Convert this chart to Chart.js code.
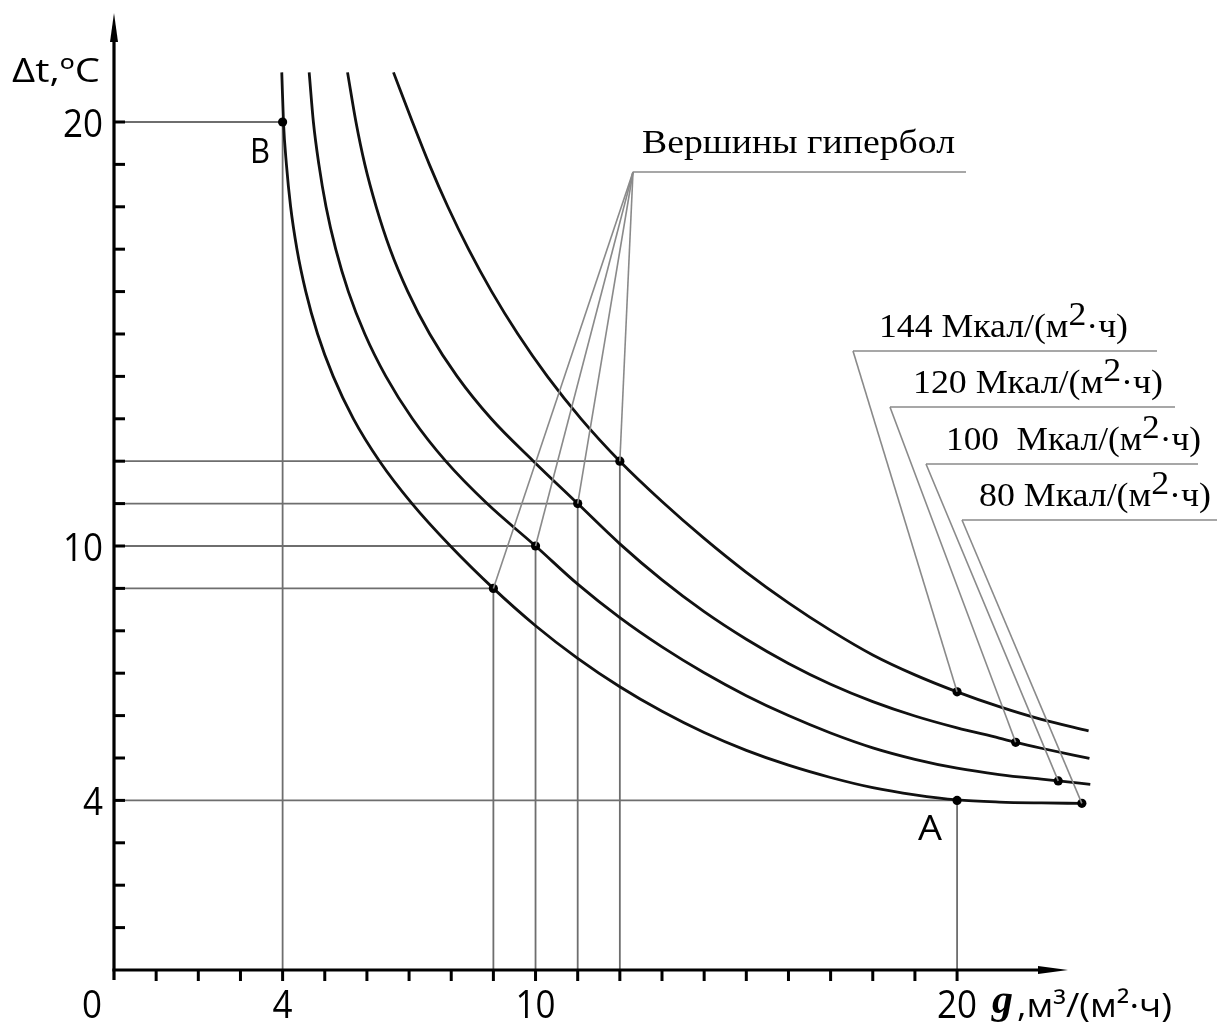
<!DOCTYPE html>
<html>
<head>
<meta charset="utf-8">
<script src="https://cdn.jsdelivr.net/npm/chart.js@4.4.0/dist/chart.umd.min.js"></script>
<style>
html, body { margin: 0; padding: 0; background: #fff; }
#wrap { width: 1217px; height: 1025px; }
</style>
</head>
<body>
<div id="wrap"><canvas id="hyperChart" width="1217" height="1025"></canvas></div>
<script>
// g, м3/(м2·ч) and Δt, °C, one pair of arrays per curve
var g80   = [3.98, 4.02, 4.09, 4.19, 4.34, 4.55, 4.83, 5.2, 5.68, 6.3, 7.07, 7.98, 9.0, 10, 11, 12, 13, 14, 15, 16, 17, 18, 19, 20, 21, 22, 22.96];
var dt80  = [21.17, 20, 19, 18, 17, 16, 15, 14, 13, 12, 11, 10, 9.0, 8.12, 7.35, 6.68, 6.1, 5.6, 5.18, 4.83, 4.54, 4.3, 4.13, 4.01, 3.96, 3.94, 3.93];
var g100  = [4.63, 4.73, 4.86, 5.03, 5.26, 5.56, 5.95, 6.45, 7.08, 7.87, 8.85, 10, 11, 12, 13, 14, 15, 16, 17, 18, 19, 20, 21, 22, 22.4, 23.16];
var dt100 = [21.17, 20, 19, 18, 17, 16, 15, 14, 13, 12, 11, 10, 9.1, 8.31, 7.62, 7.01, 6.47, 6.0, 5.59, 5.24, 4.97, 4.76, 4.61, 4.5, 4.46, 4.38];
var g120  = [5.54, 5.74, 5.95, 6.22, 6.55, 6.97, 7.49, 8.14, 8.95, 9.95, 11, 12, 13, 14, 15, 16, 17, 18, 19, 20, 21, 21.39, 22, 23.14];
var dt120 = [21.17, 20, 19, 18, 17, 16, 15, 14, 13, 12, 11, 10.05, 9.2, 8.45, 7.8, 7.23, 6.74, 6.33, 5.99, 5.71, 5.47, 5.37, 5.23, 4.99];
var g144  = [6.63, 7.08, 7.48, 7.92, 8.41, 8.96, 9.58, 10.28, 11.08, 12, 13, 14, 15, 16, 17, 18, 19, 20, 21, 22, 23.12];
var dt144 = [21.17, 20, 19, 18, 17, 16, 15, 14, 13, 12, 11.05, 10.18, 9.38, 8.66, 8.01, 7.43, 6.96, 6.56, 6.21, 5.91, 5.64];

// vertices of the hyperbolas (80, 100, 120, 144)
var vertexG  = [9, 10, 11, 12];
var vertexDt = [9, 10, 11, 12];
// points B and A
var pointB = [4, 20];
var pointA = [20, 4];
// points that carry the load labels (80, 100, 120, 144)
var markG  = [22.96, 22.4, 21.39, 20.0];
var markDt = [3.93, 4.46, 5.37, 6.56];
var loadLabels = ['80', '100 ', '120', '144'];

var xTickLabels = [0, 4, 10, 20];
var yTickLabels = [4, 10, 20];
var tickCountX = 20;
var tickCountY = 20;

function pts(gs, ds) {
    return gs.map(function (g, i) { return { x: g, y: ds[i] }; });
}

function curve(gs, ds) {
    return {
        data: pts(gs, ds),
        showLine: true,
        borderColor: '#111',
        borderWidth: 2.8,
        pointRadius: 0,
        cubicInterpolationMode: 'monotone',
        order: 2,
        clip: false
    };
}

function guide(g, d) {
    return {
        data: [{ x: 0, y: d }, { x: g, y: d }, { x: g, y: 0 }],
        showLine: true,
        borderColor: '#6e6e6e',
        borderWidth: 1.8,
        pointRadius: 0,
        tension: 0,
        order: 3
    };
}

var datasets = [curve(g80, dt80), curve(g100, dt100), curve(g120, dt120), curve(g144, dt144)];
vertexG.forEach(function (g, i) { datasets.push(guide(g, vertexDt[i])); });
datasets.push(guide(pointB[0], pointB[1]));
datasets.push(guide(pointA[0], pointA[1]));
datasets.push({
    data: pts(vertexG, vertexDt).concat(pts(markG, markDt), [{ x: pointB[0], y: pointB[1] }, { x: pointA[0], y: pointA[1] }]),
    showLine: false,
    pointRadius: 4.6,
    pointBackgroundColor: '#000',
    pointBorderWidth: 0,
    order: 1,
    clip: false
});

// draws text squeezed/stretched to a given width
function fitText(ctx, text, x, y, font, width) {
    ctx.save();
    ctx.font = font;
    var w = ctx.measureText(text).width;
    ctx.translate(x, y);
    ctx.scale(width / w, 1);
    ctx.fillText(text, 0, 0);
    ctx.restore();
}

function supText(ctx, pre, sup, post, x, y, font, width, lift) {
    ctx.save();
    ctx.font = font;
    var w1 = ctx.measureText(pre).width;
    var w2 = ctx.measureText(sup).width;
    var w3 = ctx.measureText(post).width;
    ctx.translate(x, y);
    ctx.scale(width / (w1 + w2 + w3), 1);
    ctx.fillText(pre, 0, 0);
    ctx.fillText(sup, w1, -lift);
    ctx.fillText(post, w1 + w2, 0);
    ctx.restore();
}

function line(ctx, x1, y1, x2, y2) {
    ctx.beginPath();
    ctx.moveTo(x1, y1);
    ctx.lineTo(x2, y2);
    ctx.stroke();
}

var drawing = {
    id: 'drawing',
    afterDatasetsDraw: function (chart) {
        var ctx = chart.ctx;
        var xs = chart.scales.x, ys = chart.scales.y;
        var x0 = xs.getPixelForValue(0), y0 = ys.getPixelForValue(0);

        ctx.save();
        ctx.fillStyle = '#000';
        ctx.strokeStyle = '#000';

        // axes
        ctx.lineWidth = 3.2;
        line(ctx, x0, y0 + 10, x0, 30);
        line(ctx, x0 - 1.6, y0, 1045, y0);
        ctx.beginPath();
        ctx.moveTo(x0, 13); ctx.lineTo(x0 + 4, 42); ctx.lineTo(x0 - 4, 42); ctx.closePath(); ctx.fill();
        ctx.beginPath();
        ctx.moveTo(1068, y0); ctx.lineTo(1038, y0 - 4); ctx.lineTo(1038, y0 + 4); ctx.closePath(); ctx.fill();

        // ticks
        ctx.lineWidth = 3;
        for (var i = 1; i <= tickCountY; i++) {
            var py = ys.getPixelForValue(i);
            line(ctx, x0, py, x0 + 11, py);
        }
        for (var j = 1; j <= tickCountX; j++) {
            var px = xs.getPixelForValue(j);
            line(ctx, px, y0, px, y0 + 11);
        }

        // tick labels
        ctx.textBaseline = 'alphabetic';
        var sans = '39px "Open Sans"';
        yTickLabels.forEach(function (v) {
            var s = String(v), w = s.length * 20;
            fitText(ctx, s, 103 - w, ys.getPixelForValue(v) + 15, sans, w);
        });
        xTickLabels.forEach(function (v) {
            var s = String(v), w = s.length * 20;
            var px = v === 0 ? 92 : xs.getPixelForValue(v);
            fitText(ctx, s, px - w / 2, 1018, sans, w);
        });

        // axis titles
        fitText(ctx, 'Δt,ºC', 12, 82, '33px "Open Sans"', 88);
        fitText(ctx, 'g', 992, 1013, 'italic bold 40px "Liberation Serif"', 21);
        fitText(ctx, ',м³/(м²·ч)', 1017, 1017, '33px "Open Sans"', 155);

        // point letters
        fitText(ctx, 'B', 250, 163, '35px "Open Sans"', 20);
        fitText(ctx, 'A', 918, 840, '35px "Open Sans"', 24);

        // hyperbola vertices callout
        ctx.strokeStyle = '#8a8a8a';
        ctx.lineWidth = 1.6;
        line(ctx, 633, 172, 966, 172);
        vertexG.forEach(function (g, i) {
            line(ctx, 633, 172, xs.getPixelForValue(g), ys.getPixelForValue(vertexDt[i]));
        });
        fitText(ctx, 'Вершины гипербол', 642, 153, '33px "Liberation Serif"', 313);

        // load labels: [text x, baseline, width, underline start, underline end]
        var lab = [[979, 506, 232, 962, 1217], [946, 450, 255, 926, 1198], [913, 393, 250, 890, 1175], [879, 337, 249, 853, 1157]];
        markG.forEach(function (g, i) {
            var L = lab[i];
            ctx.strokeStyle = '#8a8a8a';
            ctx.lineWidth = 1.6;
            line(ctx, L[3], L[1] + 14, L[4], L[1] + 14);
            line(ctx, L[3], L[1] + 14, xs.getPixelForValue(g), ys.getPixelForValue(markDt[i]));
            supText(ctx, loadLabels[i] + ' Мкал/(м', '2', '·ч)', L[0], L[1], '33px "Liberation Serif"', L[2], 12);
        });

        ctx.restore();
    }
};

var ctx = document.getElementById('hyperChart').getContext('2d');
var hyperChart = new Chart(ctx, {
    type: 'scatter',
    data: { datasets: datasets },
    options: {
        responsive: false,
        animation: false,
        layout: { padding: { left: 114, right: 7, top: 7.5, bottom: 55 } },
        scales: {
            x: { type: 'linear', min: 0, max: 26, display: false },
            y: { type: 'linear', min: 0, max: 22.7, display: false }
        },
        plugins: {
            legend: { display: false },
            tooltip: { enabled: false }
        }
    },
    plugins: [drawing]
});
</script>
</body>
</html>
